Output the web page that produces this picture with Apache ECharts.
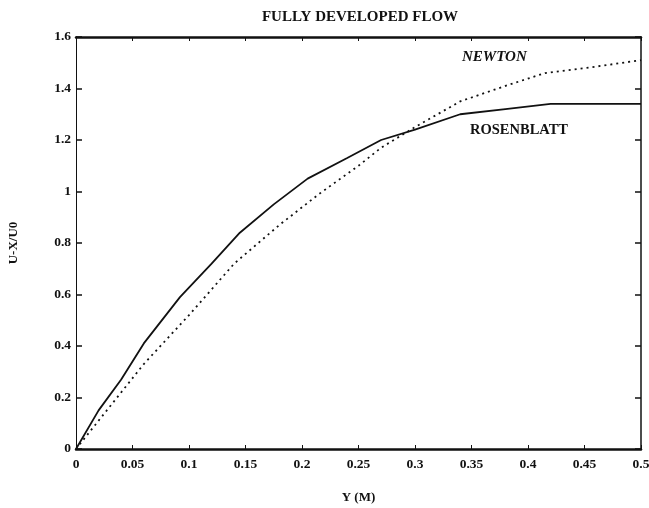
<!DOCTYPE html>
<html>
<head>
<meta charset="utf-8">
<script src="https://cdn.jsdelivr.net/npm/echarts@6/dist/echarts.min.js"></script>
<style>
  html, body { margin: 0; padding: 0; background: #fff; }
  #chart { width: 649px; height: 508px; }
</style>
</head>
<body>
<div id="chart"></div>
<script>
// Velocity profile across the channel, fully developed flow
const rosenblattY = [0, 0.02, 0.04, 0.06, 0.092, 0.12, 0.145, 0.175, 0.205, 0.24, 0.27, 0.30, 0.34, 0.38, 0.42, 0.5];
const rosenblattU = [0, 0.15, 0.27, 0.41, 0.59, 0.72, 0.84, 0.95, 1.05, 1.13, 1.2, 1.24, 1.30, 1.32, 1.34, 1.34];

const newtonY = [0, 0.02, 0.06, 0.10, 0.14, 0.18, 0.215, 0.25, 0.27, 0.30, 0.34, 0.38, 0.415, 0.46, 0.5];
const newtonU = [0, 0.11, 0.33, 0.52, 0.72, 0.87, 0.99, 1.10, 1.17, 1.25, 1.35, 1.41, 1.46, 1.485, 1.51];

const xTicks = { min: 0, max: 0.5, step: 0.05 };
const yTicks = { min: 0, max: 1.6, step: 0.2 };

const serif = '"Liberation Serif", "DejaVu Serif", serif';
const ink = '#111';

const chart = echarts.init(document.getElementById('chart'), null, { renderer: 'canvas' });

const pairs = (xs, ys) => xs.map((x, i) => [x, ys[i]]);

chart.setOption({
  backgroundColor: '#fff',
  animation: false,
  title: {
    text: 'FULLY DEVELOPED FLOW',
    left: 355, top: 5, textAlign: 'center',
    textStyle: { fontFamily: serif, fontWeight: 'bold', fontSize: 15, color: ink }
  },
  grid: { left: 76, right: 8, top: 37, bottom: 59, containLabel: false, outerBoundsMode: 'none' },
  xAxis: [{
    type: 'value', min: xTicks.min, max: xTicks.max, interval: xTicks.step,
    name: 'Y (M)', nameLocation: 'middle', nameGap: 42,
    nameTextStyle: { fontFamily: serif, fontWeight: 'bold', fontSize: 13, color: ink },
    axisLine: { onZero: false, lineStyle: { color: ink, width: 2.5 } },
    axisTick: { inside: true, length: 4, lineStyle: { color: ink, width: 1 } },
    axisLabel: { fontFamily: serif, fontWeight: 'bold', fontSize: 13.5, color: ink, margin: 9 },
    splitLine: { show: false }
  }, {
    type: 'value', position: 'top', min: xTicks.min, max: xTicks.max, interval: xTicks.step,
    axisLine: { show: true, onZero: false, lineStyle: { color: ink, width: 2.5 } },
    axisTick: { show: true, inside: true, length: 4, lineStyle: { color: ink, width: 1 } },
    axisLabel: { show: false },
    splitLine: { show: false }
  }],
  yAxis: [{
    type: 'value', min: yTicks.min, max: yTicks.max, interval: yTicks.step,
    name: 'U-X/U0', nameLocation: 'middle', nameGap: 56, nameRotate: 90,
    nameTextStyle: { fontFamily: serif, fontWeight: 'bold', fontSize: 13, color: ink },
    axisLine: { show: true, onZero: false, lineStyle: { color: ink, width: 1 } },
    axisTick: { show: true, inside: true, length: 6, lineStyle: { color: ink, width: 1.5 } },
    axisLabel: { fontFamily: serif, fontWeight: 'bold', fontSize: 13.5, color: ink, margin: 5 },
    splitLine: { show: false }
  }, {
    type: 'value', position: 'right', min: yTicks.min, max: yTicks.max, interval: yTicks.step,
    axisLine: { show: true, onZero: false, lineStyle: { color: ink, width: 1.5 } },
    axisTick: { show: true, inside: true, length: 6, lineStyle: { color: ink, width: 1.5 } },
    axisLabel: { show: false },
    splitLine: { show: false }
  }],
  series: [{
    name: 'ROSENBLATT', type: 'line', xAxisIndex: 0, yAxisIndex: 0,
    data: pairs(rosenblattY, rosenblattU),
    showSymbol: false, smooth: false,
    lineStyle: { color: ink, width: 1.8, type: 'solid' }
  }, {
    name: 'NEWTON', type: 'line', xAxisIndex: 0, yAxisIndex: 0,
    data: pairs(newtonY, newtonU),
    showSymbol: false, smooth: false,
    lineStyle: { color: ink, width: 1.8, type: [2, 4] }
  }],
  graphic: [{
    type: 'text', left: 462, top: 50,
    style: { text: 'NEWTON', fontFamily: serif, fontStyle: 'italic', fontWeight: 'bold', fontSize: 15, fill: ink }
  }, {
    type: 'text', left: 470, top: 123,
    style: { text: 'ROSENBLATT', fontFamily: serif, fontWeight: 'bold', fontSize: 14.5, fill: ink }
  }]
});
</script>
</body>
</html>
